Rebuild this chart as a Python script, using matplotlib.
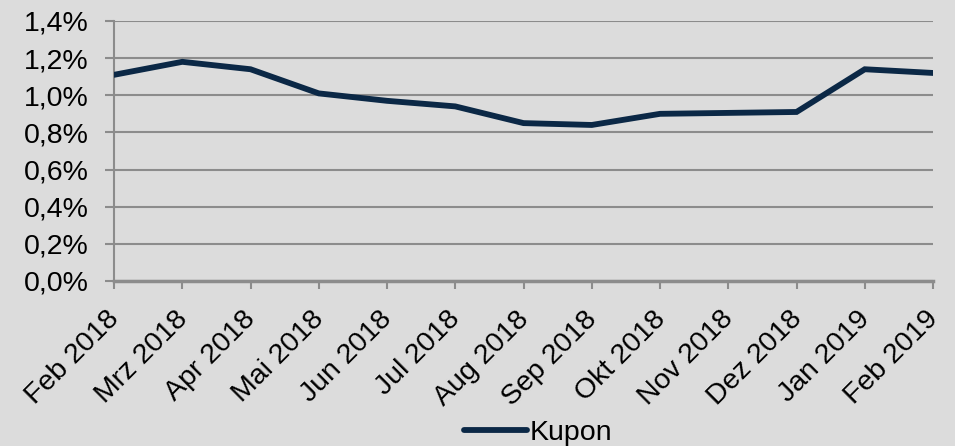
import matplotlib.pyplot as plt
import matplotlib.transforms as mtransforms
from matplotlib.ticker import FuncFormatter

months = ["Feb 2018", "Mrz 2018", "Apr 2018", "Mai 2018", "Jun 2018", "Jul 2018",
          "Aug 2018", "Sep 2018", "Okt 2018", "Nov 2018", "Dez 2018", "Jan 2019", "Feb 2019"]
kupon = [1.11, 1.18, 1.14, 1.01, 0.97, 0.94, 0.85, 0.84, 0.90, 0.905, 0.91, 1.14, 1.12]
yticks = [0.0, 0.2, 0.4, 0.6, 0.8, 1.0, 1.2, 1.4]

bg = "#DCDCDC"
grid = "#8C8C8C"
navy = "#0B2846"
fs = 20.5

plt.rcParams["font.family"] = ["Liberation Sans", "DejaVu Sans"]

fig = plt.figure(figsize=(9.55, 4.46), dpi=100, facecolor=bg)
ax = fig.add_axes([0.1194, 0.37, 0.8576, 0.583])
ax.set_facecolor(bg)

x = list(range(len(months)))
ax.plot(x, kupon, color=navy, lw=4.2, solid_capstyle="round", solid_joinstyle="miter", label="Kupon", zorder=3)

ax.set_xlim(0, len(months) - 1)
ax.set_ylim(0, 1.4)
ax.set_yticks(yticks)
ax.yaxis.set_major_formatter(FuncFormatter(lambda v, p: f"{v:.1f}%".replace(".", ",")))
ax.set_xticks(x)
ax.set_xticklabels([])

# rotated month labels, ending just left of each tick like the original
lbl_tr = ax.get_xaxis_transform() + mtransforms.ScaledTranslation(-0.08, -0.25, fig.dpi_scale_trans)
for xi, m in zip(x, months):
    ax.text(xi, 0, m, transform=lbl_tr, rotation=45, ha="right", va="top",
            rotation_mode="anchor", fontsize=fs, clip_on=False)

ax.grid(axis="y", color=grid, lw=1.5)
ax.set_axisbelow(True)
for s in ["top", "right"]:
    ax.spines[s].set_visible(False)
ax.spines["left"].set_color(grid)
ax.spines["left"].set_linewidth(1.5)
ax.spines["bottom"].set_color(grid)
ax.spines["bottom"].set_linewidth(2.5)
ax.tick_params(axis="y", length=6.5, width=1.5, color=grid, labelsize=fs, pad=12)
ax.tick_params(axis="x", length=6, width=1.5, color=grid)

fig.legend(loc="center", bbox_to_anchor=(538 / 955, 1 - 433 / 446), frameon=False,
           fontsize=fs, handlelength=2.2, handletextpad=0.1)

fig.savefig("out.png", dpi=100, facecolor=bg)
